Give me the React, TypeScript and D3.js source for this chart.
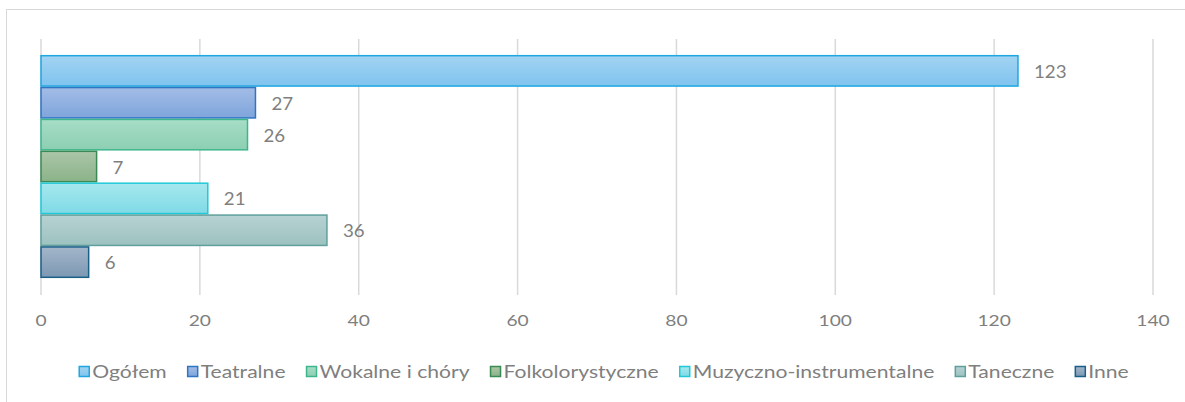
import React, { useRef, useEffect } from 'react';
import * as d3 from 'd3';

const categories = ['Ogółem', 'Teatralne', 'Wokalne i chóry', 'Folkolorystyczne', 'Muzyczno-instrumentalne', 'Taneczne', 'Inne'];
const values = [123, 27, 26, 7, 21, 36, 6];
const ticks = [0, 20, 40, 60, 80, 100, 120, 140];
const fillsTop = ['#a2d3f2', '#a3bce6', '#a6ddc6', '#abc6a7', '#a6e8ef', '#b7d2d2', '#a3b6ca'];
const fillsBottom = ['#7fc4ee', '#7ea5dc', '#8dcfb2', '#8bb389', '#7fdae5', '#9cc2c0', '#7d98b3'];
const strokes = ['#1ea7e0', '#2e75c2', '#3db68e', '#3a8a55', '#20c8d8', '#5fa09c', '#1a5f88'];

const W = 1185;
const H = 402;
const FONT = 'Lato, "Open Sans", sans-serif';
const TEXT = '#7f7f7f';
const STRETCH = 1.28;

const App = () => {
  const svgRef = useRef<SVGSVGElement>(null);

  useEffect(() => {
    const svg = d3.select(svgRef.current)
      .attr('width', W)
      .attr('height', H)
      .html('');

    // frame
    svg.append('rect')
      .attr('x', 6.5).attr('y', 9.5)
      .attr('width', 1200).attr('height', 420)
      .attr('fill', '#fff')
      .attr('stroke', '#d9d9d9');

    const x = d3.scaleLinear().domain([0, 140]).range([41, 1153]);
    const y = d3.scaleBand<string>()
      .domain(categories)
      .range([39, 294])
      .paddingOuter(0.5)
      .paddingInner(0);

    const defs = svg.append('defs');
    categories.forEach((c, i) => {
      const g = defs.append('linearGradient')
        .attr('id', `grad${i}`)
        .attr('x1', 0).attr('y1', 0).attr('x2', 0).attr('y2', 1);
      g.append('stop').attr('offset', '0%').attr('stop-color', fillsTop[i]);
      g.append('stop').attr('offset', '100%').attr('stop-color', fillsBottom[i]);
    });

    // Gridlines
    svg.append('g')
      .selectAll('line')
      .data(ticks)
      .enter()
      .append('line')
        .attr('x1', d => x(d)).attr('x2', d => x(d))
        .attr('y1', 39).attr('y2', 295)
        .attr('stroke', '#d9d9d9')
        .attr('stroke-width', 1.5);

    // Tick labels (text a bit wider, like the original)
    svg.append('g')
      .selectAll('text')
      .data(ticks)
      .enter()
      .append('text')
        .attr('transform', d => `translate(${x(d)},326) scale(${STRETCH},1)`)
        .attr('text-anchor', 'middle')
        .attr('font-family', FONT)
        .attr('font-size', 15)
        .attr('fill', TEXT)
        .text(d => d);

    // Bars
    svg.append('g')
      .selectAll('rect')
      .data(values)
      .enter()
      .append('rect')
        .attr('x', x(0))
        .attr('y', (d, i) => y(categories[i])! + 0.75)
        .attr('width', d => x(d) - x(0))
        .attr('height', y.bandwidth() - 1.5)
        .attr('fill', (d, i) => `url(#grad${i})`)
        .attr('stroke', (d, i) => strokes[i])
        .attr('stroke-width', 1.5);

    // Labels
    svg.append('g')
      .selectAll('text')
      .data(values)
      .enter()
      .append('text')
        .attr('transform', (d, i) => `translate(${x(d) + 16},${y(categories[i])! + y.bandwidth() / 2 + 7}) scale(1.1,1)`)
        .attr('font-family', FONT)
        .attr('font-size', 17)
        .attr('fill', TEXT)
        .text(d => d);

    // Legend
    const legend = svg.append('g');
    const items = legend.selectAll('g')
      .data(categories)
      .enter()
      .append('g');
    items.append('rect')
      .attr('width', 10).attr('height', 10)
      .attr('y', -11.5)
      .attr('fill', (d, i) => `url(#grad${i})`)
      .attr('stroke', (d, i) => strokes[i])
      .attr('stroke-width', 1.5);
    items.append('text')
      .attr('transform', `translate(13,0) scale(${STRETCH},1)`)
      .attr('font-family', FONT)
      .attr('font-size', 16.5)
      .attr('fill', TEXT)
      .text(d => d);
    let offset = 0;
    const offsets: number[] = [];
    items.each(function () {
      offsets.push(offset);
      const t = d3.select(this).select('text').node() as SVGTextElement;
      offset += 13 + t.getComputedTextLength() * STRETCH + 21;
    });
    const total = offset - 21;
    const start = 604 - total / 2;
    items.attr('transform', (d, i) => `translate(${start + offsets[i]},378)`);
  }, []);

  return <svg ref={svgRef} style={{ position: 'absolute', left: 0, top: 0 }} />;
};

export default App;
